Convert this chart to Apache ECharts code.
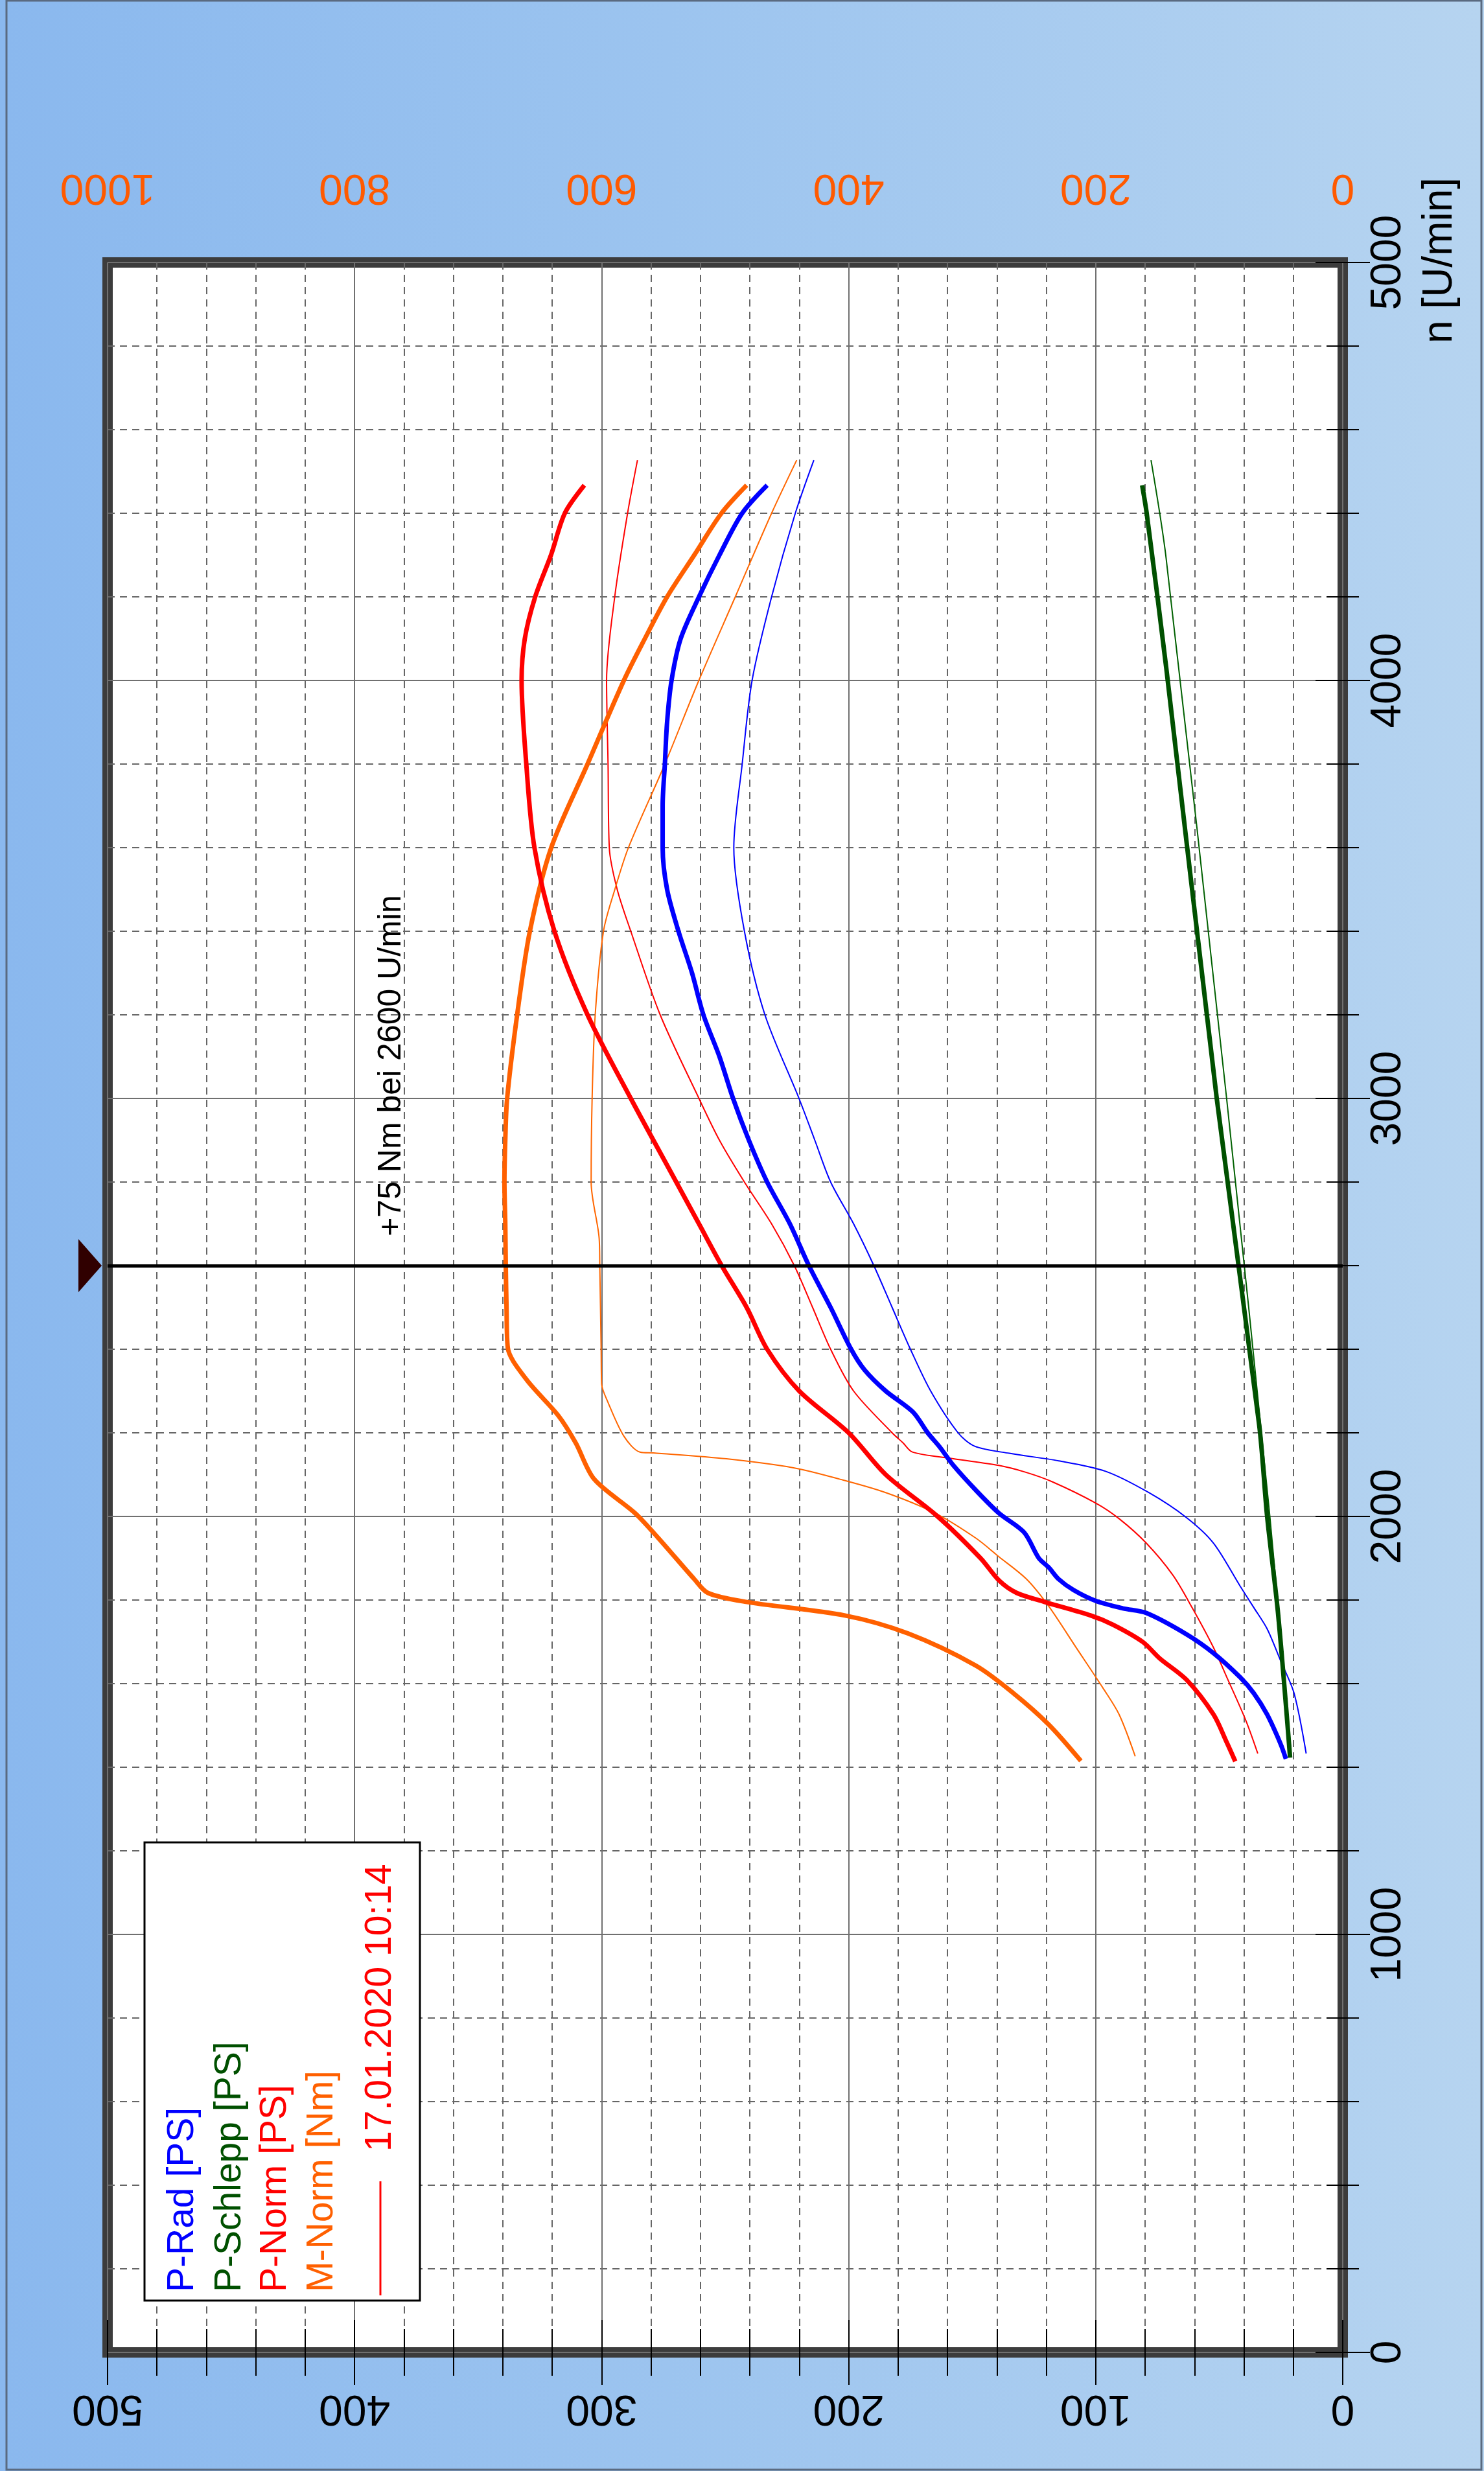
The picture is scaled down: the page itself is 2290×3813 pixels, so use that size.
<!DOCTYPE html>
<html>
<head>
<meta charset="utf-8">
<script src="https://cdn.jsdelivr.net/npm/echarts@6/dist/echarts.min.js"></script>
<style>
html,body{margin:0;padding:0;}
body{width:2290px;height:3813px;background:linear-gradient(to right,#8ab8ee 0%,#9cc4ef 45%,#b6d4f0 100%);}
#c{width:2290px;height:3813px;}
</style>
</head>
<body>
<div id="c"></div>
<script>
// ---- axis ticks ----
const psTicks = [0, 100, 200, 300, 400, 500];
const nmTicks = [0, 200, 400, 600, 800, 1000];
const rpmTicks = [0, 1000, 2000, 3000, 4000, 5000];

// ---- current run (thick) ----
const rpmRad = [1420,1455,1526,1577,1615,1673,1718,1769,1780,1798,1824,1850,1878,1900,1962,2008,2062,2122,2165,2200,2250,2300,2350,2400,2500,2600,2700,2800,2900,3000,3100,3200,3300,3400,3500,3600,3700,3800,3900,4000,4100,4200,4300,4400,4467];
const pRad   = [23,25.1,30.6,36,41.5,52.3,63.2,79.5,89,100,109,115,119,123,129,139.2,148.4,157.6,163,168,174,185,193.5,199,207.3,216.1,223.8,233,240.4,246.8,252.3,258.8,263.4,268.9,273.5,275.3,275.3,274.4,273.5,271.7,268,260.6,252.3,243.1,233];

const rpmSchlepp = [1423,1769,2000,2218,3000,4033,4402,4467];
const pSchlepp   = [21.3,26.2,30.6,33.8,51,71.5,79.4,81.2];

const rpmNorm = [1414,1460,1526,1609,1660,1700,1741,1763,1796,1817,1846,1900,2000,2100,2200,2300,2400,2500,2600,2700,2800,3000,3200,3400,3600,3800,4000,4100,4200,4300,4400,4467];
const pNorm   = [43.5,47,52.3,63.2,74,81,93,102,121,132,139,146.6,164,185,200,220,233,241.3,251.4,260.6,269.8,288.2,305.7,319.1,327.2,330.5,332.4,331.1,326.9,320.5,314.9,307];

const rpmM = [1415,1502,1578,1643,1720,1763,1796,1817,1850,1948,2008,2089,2176,2241,2328,2404,2500,2600,2700,2800,2900,3000,3200,3400,3600,3800,4000,4100,4200,4300,4400,4467];
const mNorm = [212,238,267,297,352,403,484,514,525,554,573,606,621,635,661,676,677,677.6,678,678.7,678,676.5,668.4,658.1,640.8,611.4,582,565,547,525,503,482.6];

// ---- reference run 17.01.2020 10:14 (thin) ----
const rpmRadRef = [1433,1577,1654,1731,1782,1833,1936,1997,2057,2108,2133,2151,2168,2200,2300,2400,2500,2600,2700,2800,2900,3000,3200,3400,3600,3800,4000,4200,4400,4527];
const pRadRef   = [14.8,19.7,25.1,30.6,36,41.5,52.3,63.2,78.5,96,115,135,149,155.7,166.8,175,182.4,189.8,198,207.3,213.7,220.1,233.9,242.2,246.5,243.1,239.1,231.2,221.6,214.1];

const rpmSchleppRef = [1440,2000,3000,4293,4527];
const pSchleppRef   = [21,29.5,47,71.5,77.6];

const rpmNormRef = [1433,1513,1615,1686,1782,1859,1936,1994,2032,2083,2106,2122,2138,2154,2176,2200,2300,2400,2500,2600,2700,2800,2900,3000,3200,3400,3500,3600,3800,4000,4200,4400,4527];
const pNormRef   = [34.4,39.3,46.9,52.3,61,68.7,79.5,90.4,100,117.6,128.5,139.2,157.6,174.2,178,182.4,198,207.3,214.6,222,231.2,242.2,252.3,260.6,276.3,288.2,293.7,296.9,297.4,298,294.7,289.5,285.5];

const rpmMRef = [1426,1526,1589,1687,1785,1850,1904,1948,2008,2057,2089,2116,2138,2152,2154,2192,2274,2317,2400,2600,2665,2800,3000,3200,3400,3500,3600,3800,4000,4200,4400,4527];
const mNormRef = [168,181,194,216,238,256,278.5,297,330,370,407,444,499,558,569,582,595,600,600.4,601.5,602,608.5,607.7,605.2,598.5,589.3,578.3,548.8,521.3,491.8,462.4,442.1];

const markRpm = 2600;
const legendItems = [
  {text:'P-Rad [PS]', color:'#0000ff'},
  {text:'P-Schlepp [PS]', color:'#005000'},
  {text:'P-Norm [PS]', color:'#ff0000'},
  {text:'M-Norm [Nm]', color:'#ff6000'}
];
const refLabel = '17.01.2020 10:14';
const noteText = '+75 Nm bei 2600 U/min';

function pairs(vals, rpms){ return vals.map((v,i)=>[v, rpms[i]]); }
const plain = v => String(v);

const FONT = '"Liberation Sans", Arial, sans-serif';
const chart = echarts.init(document.getElementById('c'), null, {renderer:'canvas'});

function line(name, vals, rpms, color, width, xIdx, extra){
  return Object.assign({
    name: name, type:'line', xAxisIndex:xIdx, yAxisIndex:0,
    data: pairs(vals, rpms), showSymbol:false, symbol:'none', smooth:0.3,
    lineStyle:{color:color, width:width}, itemStyle:{color:color},
    animation:false, z: width>3 ? 3 : 2
  }, extra||{});
}

const gridLineMajor = {show:true, lineStyle:{color:'#707070', width:2}};
const gridLineMinor = {show:true, lineStyle:{color:'#666666', width:2, type:[11,8]}};

const option = {
  backgroundColor:'transparent',
  animation:false,
  grid:{left:166, right:218, top:405, bottom:183, show:true, backgroundColor:'#ffffff', borderColor:'#3c3c3c', borderWidth:16, containLabel:false},
  xAxis:[
    {type:'value', min:psTicks[0], max:psTicks[psTicks.length-1], interval:100, inverse:true, position:'bottom',
     axisLine:{show:false},
     axisTick:{show:true, inside:true, length:50, lineStyle:{color:'#000', width:2}},
     minorTick:{show:true, splitNumber:5, length:36, lineStyle:{color:'#000', width:2}},
     splitLine:gridLineMajor, minorSplitLine:gridLineMinor,
     axisLabel:{rotate:180, fontSize:66, color:'#000', margin:52, fontFamily:FONT, formatter:plain}},
    {type:'value', min:nmTicks[0], max:nmTicks[nmTicks.length-1], interval:200, inverse:true, position:'top',
     axisLine:{show:false},
     axisTick:{show:true, inside:true, length:50, lineStyle:{color:'#000', width:2}},
     minorTick:{show:true, splitNumber:5, length:36, lineStyle:{color:'#000', width:2}},
     splitLine:{show:false},
     axisLabel:{rotate:180, fontSize:66, color:'#ff5a00', margin:84, fontFamily:FONT, formatter:plain}}
  ],
  yAxis:[
    {type:'value', min:rpmTicks[0], max:rpmTicks[rpmTicks.length-1], interval:1000, position:'right',
     axisLine:{show:false},
     axisTick:{show:true, inside:true, length:42, lineStyle:{color:'#000', width:2}},
     minorTick:{show:true, splitNumber:5, length:25, lineStyle:{color:'#000', width:2}},
     splitLine:gridLineMajor, minorSplitLine:gridLineMinor,
     axisLabel:{rotate:90, fontSize:66, color:'#000', margin:38, fontFamily:FONT, formatter:plain}},
    {type:'value', min:rpmTicks[0], max:rpmTicks[rpmTicks.length-1], interval:1000, position:'left',
     axisLine:{show:false},
     axisTick:{show:true, inside:true, length:42, lineStyle:{color:'#000', width:2}},
     minorTick:{show:true, splitNumber:5, length:25, lineStyle:{color:'#000', width:2}},
     splitLine:{show:false}, axisLabel:{show:false}}
  ],
  series:[
    line('P-Rad ref', pRadRef, rpmRadRef, '#0000ff', 2, 0),
    line('P-Schlepp ref', pSchleppRef, rpmSchleppRef, '#006000', 2, 0),
    line('P-Norm ref', pNormRef, rpmNormRef, '#ff0000', 2, 0),
    line('M-Norm ref', mNormRef, rpmMRef, '#ff6600', 2, 1),
    line('P-Schlepp', pSchlepp, rpmSchlepp, '#005000', 7, 0),
    line('M-Norm', mNorm, rpmM, '#ff6000', 7, 1),
    line('P-Norm', pNorm, rpmNorm, '#ff0000', 7, 0),
    line('P-Rad', pRad, rpmRad, '#0000ff', 7, 0, {
      markLine:{silent:true, symbol:['none','none'], label:{show:false},
        lineStyle:{color:'#000', width:5, type:'solid'}, data:[{yAxis:markRpm}], animation:false}
    })
  ]
};
chart.setOption(option);

// decorations positioned from the axes
const yMark = chart.convertToPixel({yAxisIndex:0}, markRpm);
const xLeft = chart.convertToPixel({xAxisIndex:0}, 500);
const notePos = chart.convertToPixel({xAxisIndex:0, yAxisIndex:0}, [385, 2670]);
const yTop = chart.convertToPixel({yAxisIndex:0}, 5000);
const xRight = chart.convertToPixel({xAxisIndex:0}, 0);

const graphics = [
  {type:'rect', shape:{x:10, y:1, width:2276, height:3810}, style:{fill:null, stroke:'#5a6a80', lineWidth:3}, silent:true, z:0},
  {type:'polygon', shape:{points:[[xLeft-45, yMark-41],[xLeft-9, yMark],[xLeft-45, yMark+41]]}, style:{fill:'#300000'}, z:10},
  {type:'text', x:notePos[0], y:notePos[1], rotation:Math.PI/2, z:10,
   style:{text:noteText, fontSize:50, fontFamily:FONT, fill:'#000', align:'left', verticalAlign:'middle'}},
  {type:'text', x:xRight+150, y:yTop+125, rotation:Math.PI/2, z:10,
   style:{text:'n [U/min]', fontSize:64, fontFamily:FONT, fill:'#000', align:'left', verticalAlign:'middle'}},
  // legend box
  {type:'rect', shape:{x:223, y:2843, width:425, height:707}, style:{fill:'#ffffff', stroke:'#000', lineWidth:3}, z:20}
];
const legendX = [282, 355, 425, 497];
legendItems.forEach((it, i) => {
  graphics.push({type:'text', x:legendX[i], y:3537, rotation:Math.PI/2, z:21,
    style:{text:it.text, fontSize:57, fontFamily:FONT, fill:it.color, align:'left', verticalAlign:'middle'}});
});
graphics.push({type:'line', shape:{x1:587, y1:3542, x2:587, y2:3366}, style:{stroke:'#ff0000', lineWidth:3}, z:21});
graphics.push({type:'text', x:587, y:3320, rotation:Math.PI/2, z:21,
  style:{text:refLabel, fontSize:57, fontFamily:FONT, fill:'#ff0000', align:'left', verticalAlign:'middle'}});

chart.setOption({graphic:graphics});
</script>
</body>
</html>
